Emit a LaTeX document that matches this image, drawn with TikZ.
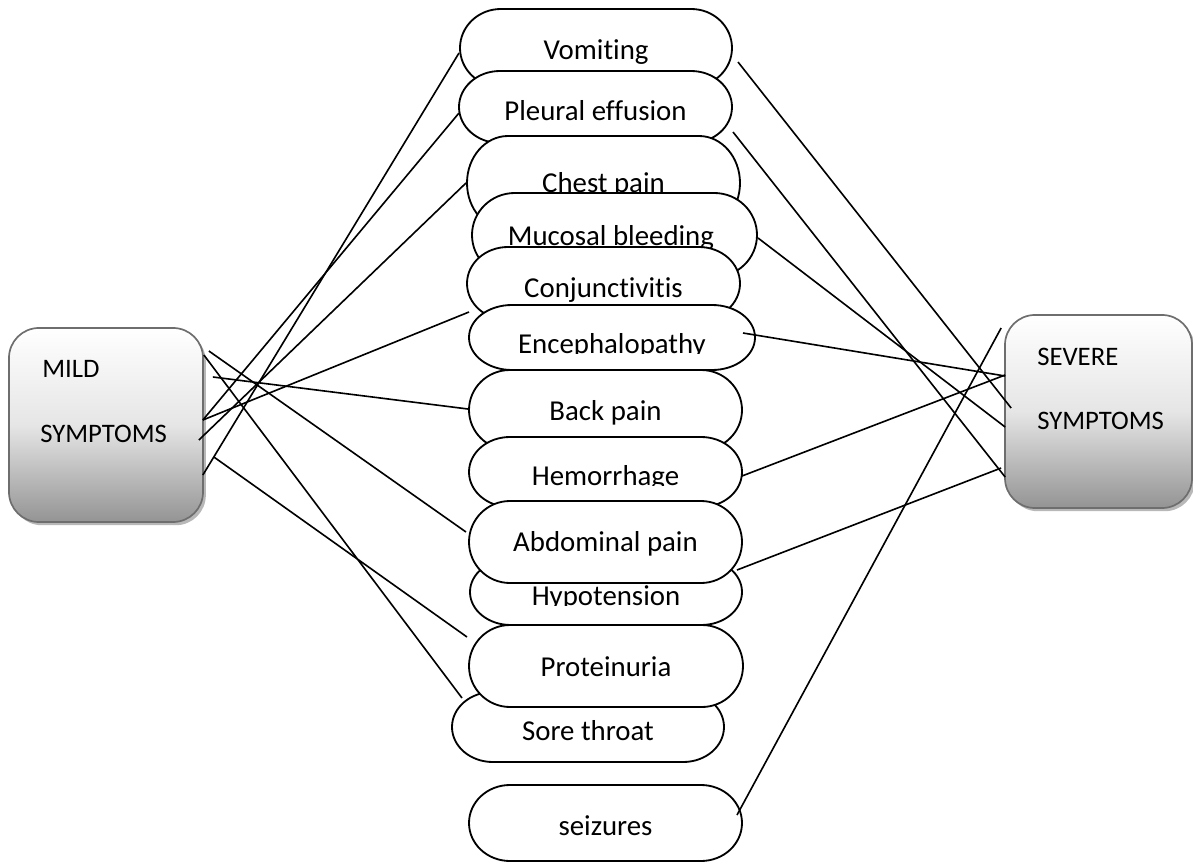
\documentclass[tikz,border=0pt]{standalone}
\usepackage{fontspec}
\setmainfont{Carlito}[Ligatures=NoCommon]
\usetikzlibrary{calc,shadows}

\tikzset{
  x=0.025cm, y=-0.025cm,
  link/.style={draw=black, line width=1.15pt},
  pillline/.style={draw=black, line width=1.3pt, fill=white},
  pillbox/.style={rectangle, draw=none, inner sep=0pt, outer sep=0pt},
  pilltext/.style={anchor=base, inner sep=0pt, font=\fontsize{20.5}{24}\selectfont},
  sympbox/.style={rectangle, rounded corners=0.75cm, draw=black!57, line width=1.2pt,
    top color=white, bottom color=black!42, middle color=black!10, inner sep=0pt,
    drop shadow={shadow xshift=0.07cm, shadow yshift=-0.08cm, fill=black!28, opacity=1}},
  symptext/.style={anchor=base west, inner sep=0pt, font=\fontsize{19}{23}\selectfont},
}

% pill-shaped symptom box: name, left, top, right, bottom (picture units)
\newcommand\pillshape[5]{%
  \pgfmathsetmacro\pw{(#4-#2)*0.025}%
  \pgfmathsetmacro\ph{(#5-#3)*0.025}%
  \pgfmathsetmacro\prx{0.15*(#4-#2)}%
  \pgfmathsetmacro\pry{(#5-#3)/2}%
  \pgfmathsetmacro\pcx{(#2+#4)/2}%
  \pgfmathsetmacro\pcy{(#3+#5)/2}%
  \node[pillbox, minimum width=\pw cm, minimum height=\ph cm] (#1) at (\pcx,\pcy) {};
  \path[pillline] ({#2+\prx},#3) -- ({#4-\prx},#3)
    arc[start angle=-90, end angle=90, x radius=\prx, y radius=\pry]
    -- ({#2+\prx},#5)
    arc[start angle=90, end angle=270, x radius=\prx, y radius=\pry] -- cycle;
}

\begin{document}
\begin{tikzpicture}
\useasboundingbox (0,0) rectangle (1193,862);

% group boxes
\node[sympbox, minimum width=4.85cm, minimum height=4.85cm] (mild) at (106,425) {};
\node[symptext] (mild-a) at (42,377) {MILD};
\node[symptext] (mild-b) at (40,442) {SYMPTOMS};

\node[sympbox, minimum width=4.675cm, minimum height=4.825cm] (severe) at (1098.5,411.5) {};
\node[symptext] (severe-a) at (1037,365) {SEVERE};
\node[symptext] (severe-b) at (1037,429) {SYMPTOMS};

% symptoms, stacked from top to bottom
\pillshape{vom}{460}{9}{732}{87}
\node[pilltext] (vom-t) at (596,59) {Vomiting};
\pillshape{ple}{459}{71}{732}{143}
\node[pilltext] (ple-t) at (595.5,120) {Pleural effusion};
\pillshape{che}{467}{136}{740}{230}
\node[pilltext] (che-t) at (603.5,192) {Chest pain};
\pillshape{muc}{472}{193}{757}{277}
\node[pilltext] (muc-t) at (611,245) {Mucosal bleeding};
\pillshape{con}{467}{247}{740}{320}
\node[pilltext] (con-t) at (603.5,297) {Conjunctivitis};
\pillshape{enc}{469}{305}{755}{370}
\begin{scope}
  \clip (460,300) rectangle (760,353);
  \node[pilltext] (enc-t) at (612,353) {Encephalopathy};
\end{scope}
\pillshape{bac}{469}{370}{742}{450}
\node[pilltext] (bac-t) at (605.5,420) {Back pain};
\pillshape{hem}{469}{437}{742}{507}
\begin{scope}
  \clip (460,440) rectangle (760,485);
  \node[pilltext] (hem-t) at (605.5,485) {Hemorrhage};
\end{scope}
\pillshape{hyp}{470}{559}{742}{625}
\begin{scope}
  \clip (460,560) rectangle (760,605);
  \node[pilltext] (hyp-t) at (606,605) {Hypotension};
\end{scope}
\pillshape{abd}{469}{501}{742}{583}
\node[pilltext] (abd-t) at (605.5,551) {Abdominal pain};
\pillshape{sor}{452}{692}{724}{762}
\begin{scope}
  \clip (440,690) rectangle (740,740);
  \node[pilltext] (sor-t) at (588,740) {Sore throat};
\end{scope}
\pillshape{pro}{469}{625}{743}{707}
\node[pilltext] (pro-t) at (606,676) {Proteinuria};
\pillshape{sei}{469}{785}{742}{861}
\node[pilltext] (sei-t) at (605.5,835) {seizures};

% links from the mild group
\draw[link] ($(mild.east)+(-1,-5)$) -- ($(ple.west)+(0,6)$);
\draw[link] ($(mild.east)+(-1,-5)$) -- ($(con.west)+(2,28.5)$);
\draw[link] ($(mild.east)+(-5,15)$) -- ($(che.west)+(-1,0)$);
\draw[link] ($(mild.east)+(-1,50)$) -- ($(vom.west)+(-1,5)$);
\draw[link] ($(mild.east)+(10,32)$) -- ($(pro.west)+(-2,-29)$);
\draw[link] ($(mild.east)+(5,-74)$) -- ($(abd.west)+(-3,-10)$);
\draw[link] ($(mild.east)+(0,-70)$) -- ($(sor.west)+(10,-29)$);
\draw[link] ($(mild.east)+(9,-48)$) -- ($(bac.west)+(-1,-1)$);

% links to the severe group
\draw[link] ($(vom.east)+(6,14)$) -- ($(severe.west)+(7,-3.5)$);
\draw[link] ($(ple.east)+(1,25)$) -- ($(severe.west)+(1,65.5)$);
\draw[link] ($(muc.east)+(1,3)$) -- ($(severe.west)+(1,15.5)$);
\draw[link] ($(enc.east)+(-12,-4.5)$) -- ($(severe.west)+(1,-35.5)$);
\draw[link] ($(hem.east)+(0,4)$) -- ($(severe.west)+(1,-36.5)$);
\draw[link] ($(abd.east)+(-5,28)$) -- ($(severe.west)+(-3,56.5)$);
\draw[link] ($(sei.east)+(-5,-8)$) -- ($(severe.west)+(-3,-83.5)$);
\end{tikzpicture}
\end{document}
